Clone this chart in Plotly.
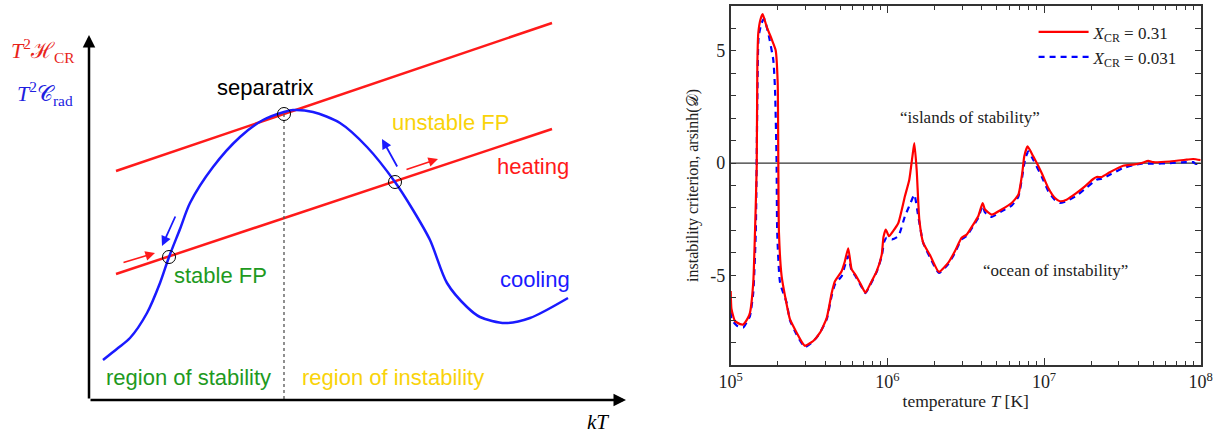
import plotly.graph_objects as go

# ---------------- Right panel data ----------------
log_T_red = [5.000, 5.005, 5.027, 5.060, 5.080, 5.110, 5.123, 5.144, 5.155, 5.166, 5.170, 5.176,
             5.190, 5.204, 5.230, 5.262, 5.287, 5.300, 5.304, 5.308, 5.325, 5.347, 5.378, 5.421,
             5.463, 5.474, 5.500, 5.527, 5.570, 5.613, 5.645, 5.666, 5.708, 5.728, 5.750, 5.772,
             5.793, 5.830, 5.860, 5.889, 5.932, 5.964, 5.975, 5.990, 6.010, 6.040, 6.070, 6.112,
             6.140, 6.160, 6.172, 6.187, 6.204, 6.229, 6.272, 6.329, 6.389, 6.431, 6.474, 6.506,
             6.548, 6.580, 6.608, 6.623, 6.666, 6.729, 6.793, 6.836, 6.861, 6.874, 6.895, 6.931,
             6.985, 7.027, 7.070, 7.101, 7.144, 7.208, 7.261, 7.314, 7.336, 7.368, 7.420, 7.505,
             7.569, 7.623, 7.665, 7.697, 7.803, 7.910, 7.952, 8.000]
crit_red = [-5.70, -6.50, -7.04, -7.18, -7.19, -6.90, -6.67, -5.33, -3.10, -0.15, 4.30, 5.78,
            6.40, 6.64, 6.07, 5.51, 5.03, 3.56, 0.00, -3.10, -5.04, -5.93, -6.96, -7.56,
            -8.07, -8.15, -8.05, -7.93, -7.56, -6.90, -5.78, -5.26, -4.82, -4.40, -3.80, -4.74,
            -4.95, -5.40, -5.78, -5.41, -4.82, -4.08, -3.30, -2.96, -3.26, -3.00, -2.67, -1.48,
            -0.74, 0.30, 0.89, -0.30, -2.52, -3.56, -4.10, -4.85, -4.44, -3.93, -3.33, -3.19,
            -2.74, -2.37, -1.78, -2.07, -2.30, -2.07, -1.78, -1.41, -0.44, 0.30, 0.74, 0.30,
            -0.44, -1.11, -1.56, -1.70, -1.63, -1.33, -1.04, -0.71, -0.62, -0.62, -0.41, -0.12,
            -0.07, 0.00, 0.10, 0.04, 0.07, 0.15, 0.18, 0.13]

log_T_blue = [5.000, 5.005, 5.040, 5.080, 5.110, 5.123, 5.144, 5.160, 5.170, 5.178, 5.195, 5.213,
              5.240, 5.272, 5.283, 5.293, 5.297, 5.315, 5.357, 5.378, 5.421, 5.474, 5.527, 5.570,
              5.613, 5.645, 5.666, 5.708, 5.728, 5.750, 5.772, 5.793, 5.830, 5.860, 5.889, 5.932,
              5.964, 5.980, 5.995, 6.030, 6.070, 6.112, 6.144, 6.172, 6.197, 6.229, 6.272, 6.329,
              6.389, 6.431, 6.474, 6.506, 6.548, 6.580, 6.608, 6.623, 6.666, 6.729, 6.793, 6.836,
              6.861, 6.880, 6.900, 6.931, 6.985, 7.027, 7.070, 7.101, 7.144, 7.208, 7.261, 7.314,
              7.336, 7.368, 7.420, 7.505, 7.569, 7.623, 7.697, 7.803, 7.910, 7.952, 7.970, 8.000]
crit_blue = [-6.15, -6.96, -7.25, -7.33, -7.00, -6.82, -5.78, -3.10, 2.81, 5.60, 6.20, 6.44,
             5.78, 4.59, 3.26, 0.00, -3.10, -5.33, -6.22, -7.00, -7.65, -8.20, -7.95, -7.56,
             -6.96, -5.90, -5.40, -5.04, -4.60, -4.15, -4.80, -5.00, -5.45, -5.80, -5.45, -4.85,
             -4.15, -3.50, -3.33, -3.40, -3.26, -2.37, -1.85, -1.41, -2.37, -3.56, -4.20, -4.90,
             -4.50, -4.00, -3.40, -3.25, -2.80, -2.45, -1.90, -2.20, -2.40, -2.15, -1.90, -1.50,
             -0.60, 0.20, 0.52, 0.15, -0.60, -1.25, -1.65, -1.78, -1.70, -1.45, -1.15, -0.85,
             -0.74, -0.70, -0.52, -0.22, -0.10, -0.03, -0.03, 0.00, 0.04, 0.04, -0.04, 0.00]

series_names = ["<i>X</i><sub>CR</sub> = 0.31", "<i>X</i><sub>CR</sub> = 0.031"]
x_tick_vals = [1e5, 1e6, 1e7, 1e8]
x_tick_text = ["10<sup>5</sup>", "10<sup>6</sup>", "10<sup>7</sup>", "10<sup>8</sup>"]
y_tick_vals = [-5, 0, 5]
y_tick_text = ["-5", "0", "5"]

T_red = [10 ** v for v in log_T_red]
T_blue = [10 ** v for v in log_T_blue]

# ---------------- Left panel schematic data (diagram units) ----------------
cool_x = [103, 118, 130, 147, 160, 169, 180, 190, 213, 240, 263, 284, 293, 313, 340, 367, 395,
          413, 430, 447, 467, 480, 505, 530, 568]
cool_y = [74, 86, 96, 121, 151, 177, 205, 231, 267, 297, 314, 322, 324, 322, 311, 287, 252,
          224, 194, 151, 127, 117, 111, 116, 136]
heat_hi_x = [116, 552]
heat_hi_y = [263, 411]
heat_lo_x = [116, 552]
heat_lo_y = [160, 305]
fp_x = [284, 395, 169]
fp_y = [320, 252, 177]
# arrows: (x0, y0, x1, y1)
axis_arrows = [(89, 34, 89, 399), (89, 34, 626, 34)]
red_arrows = [(122, 171, 155, 181), (405, 264, 438, 275)]
blue_arrows = [(176, 219, 162, 188), (398, 266, 382, 295)]

RED = "#ff1a1a"
BLUE = "#1a1aff"
GREEN = "#1e9a1e"
GOLD = "#f9d30a"
SANS = "Liberation Sans"
SERIF = "Liberation Serif"

fig = go.Figure()

def line_trace(x, y, color, width, **kw):
    fig.add_trace(go.Scatter(x=x, y=y, mode="lines", line=dict(color=color, width=width, **kw),
                             showlegend=False, xaxis="x", yaxis="y", hoverinfo="skip"))

line_trace(heat_hi_x, heat_hi_y, RED, 2.5)
line_trace(heat_lo_x, heat_lo_y, RED, 2.5)
line_trace(cool_x, cool_y, BLUE, 2.5, shape="spline", smoothing=0.8)
line_trace([fp_x[0], fp_x[0]], [fp_y[0], 34], "#555555", 1.3, dash="3px,3px")
fig.add_trace(go.Scatter(x=fp_x, y=fp_y, mode="markers",
                         marker=dict(symbol="circle-open", size=13, color="black", line=dict(width=1)),
                         showlegend=False, xaxis="x", yaxis="y", hoverinfo="skip"))

# right panel traces (blue first so red is on top)
fig.add_trace(go.Scatter(x=T_blue, y=crit_blue, mode="lines", name=series_names[1], legendrank=2,
                         line=dict(color="#0000ff", width=2.2, dash="6px,5px", shape="spline", smoothing=0.5),
                         xaxis="x2", yaxis="y2"))
fig.add_trace(go.Scatter(x=T_red, y=crit_red, mode="lines", name=series_names[0], legendrank=1,
                         line=dict(color="#ff0000", width=2.2, shape="spline", smoothing=0.5),
                         xaxis="x2", yaxis="y2"))

annotations = []
def txt(x, y, s, color, size=22, family=SANS, ref=("x", "y")):
    annotations.append(dict(x=x, y=y, xref=ref[0], yref=ref[1], text=s, showarrow=False,
                            xanchor="center", yanchor="middle",
                            font=dict(color=color, size=size, family=family)))

def arrow(a, color, width, size):
    x0, y0, x1, y1 = a
    annotations.append(dict(x=x1, y=y1, ax=x0, ay=y0, xref="x", yref="y", axref="x", ayref="y",
                            text="", showarrow=True, arrowhead=2, arrowsize=size,
                            arrowwidth=width, arrowcolor=color))

for a in axis_arrows:
    arrow(a, "black", 2.5, 1.0)
for a in red_arrows:
    arrow(a, RED, 1.6, 1.2)
for a in blue_arrows:
    arrow(a, BLUE, 1.8, 1.1)

txt(265, 347, "separatrix", "black")
txt(450, 312, "unstable FP", GOLD)
txt(533, 268, "heating", RED)
txt(220, 159, "stable FP", GREEN)
txt(535, 155, "cooling", BLUE)
txt(188, 57, "region of stability", GREEN)
txt(393, 57, "region of instability", GOLD)
txt(598, 12, "<i>kT</i>", "black", size=21, family=SERIF)
txt(43, 384, "<i>T</i><sup>2</sup>ℋ<sub>CR</sub>", "#e8231a", size=22, family=SERIF)
txt(45, 341, "<i>T</i><sup>2</sup>𝒞<sub>rad</sub>", "#2020e0", size=22, family=SERIF)

# right panel annotations (paper coords)
txt(970 / 1229, 1 - 117 / 434, "“islands of stability”", "#222222", size=17, family=SERIF, ref=("paper", "paper"))
txt(1055 / 1229, 1 - 270 / 434, "“ocean of instability”", "#222222", size=17, family=SERIF, ref=("paper", "paper"))

fig.update_layout(
    width=1229, height=434, autosize=False,
    margin=dict(l=0, r=0, t=0, b=0, pad=0, autoexpand=False),
    paper_bgcolor="white", plot_bgcolor="white",
    showlegend=True,
    legend=dict(x=0.841, y=0.967, xanchor="left", yanchor="top", bgcolor="rgba(0,0,0,0)",
                font=dict(family=SERIF, size=17, color="#222222"), itemwidth=50,
                tracegroupgap=2),
    annotations=annotations,
    xaxis=dict(domain=[0, 640 / 1229], range=[0, 640], visible=False, fixedrange=True, automargin=False),
    yaxis=dict(domain=[0, 1], range=[0, 434], visible=False, fixedrange=True, automargin=False),
    xaxis2=dict(domain=[730.7 / 1229, 1200.7 / 1229], type="log", range=[5, 8], anchor="y2",
                automargin=False,
                showline=True, linecolor="#333333", linewidth=1.5, mirror="allticks",
                ticks="inside", ticklen=7, tickwidth=1.2, tickcolor="#333333",
                tickvals=x_tick_vals, ticktext=x_tick_text, showgrid=False, zeroline=False,
                minor=dict(ticks="inside", dtick="D1", ticklen=4, tickwidth=1, tickcolor="#333333", showgrid=False),
                tickfont=dict(family=SERIF, size=18, color="#222222"),
                title=dict(text="temperature <i>T</i> [K]", standoff=3,
                           font=dict(family=SERIF, size=17.5, color="#222222"))),
    yaxis2=dict(domain=[1 - 365 / 434, 1 - 6 / 434], range=[-9, 7], anchor="x2",
                automargin=False,
                showline=True, linecolor="#333333", linewidth=1.5, mirror="allticks",
                ticks="inside", ticklen=6, tickwidth=1.2, tickcolor="#333333",
                tickvals=y_tick_vals, ticktext=y_tick_text, showgrid=False, zeroline=False,
                minor=dict(ticks="inside", ticklen=6, dtick=1, tickwidth=1.2, tickcolor="#333333", showgrid=False),
                tickfont=dict(family=SERIF, size=18, color="#222222"),
                title=dict(text="instability criterion, arsinh(𝒟)", standoff=8,
                           font=dict(family=SERIF, size=16, color="#222222"))),
    shapes=[dict(type="line", xref="x2 domain", yref="y2", x0=0, x1=1, y0=0, y1=0,
                 line=dict(color="#333333", width=1.2), layer="below")],
)

fig.write_html("out.html")
